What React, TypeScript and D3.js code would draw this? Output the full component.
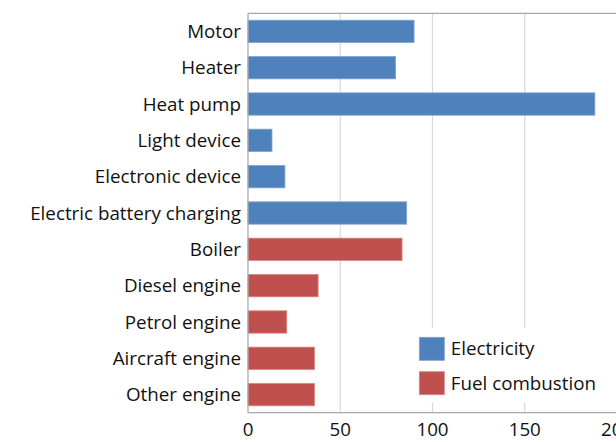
import React from "react";
import * as d3 from "d3";

const categories = [
  "Motor",
  "Heater",
  "Heat pump",
  "Light device",
  "Electronic device",
  "Electric battery charging",
  "Boiler",
  "Diesel engine",
  "Petrol engine",
  "Aircraft engine",
  "Other engine",
];
const values = [90, 80, 188, 13, 20, 86, 83.5, 38, 21, 36, 36];
const groups = [
  "Electricity",
  "Electricity",
  "Electricity",
  "Electricity",
  "Electricity",
  "Electricity",
  "Fuel combustion",
  "Fuel combustion",
  "Fuel combustion",
  "Fuel combustion",
  "Fuel combustion",
];
const legendItems = ["Electricity", "Fuel combustion"];
const xTicks = [0, 50, 100, 150, 200];

const W = 616;
const H = 442;
const FONT = "'Open Sans', Lato, sans-serif";
const FS = 18.8;

export default function App() {
  const left = 248;
  const right = 617;
  const top = 13.3;
  const bottom = 412.7;
  const x = d3.scaleLinear().domain([0, 200]).range([left, right]);
  const y = d3
    .scaleBand<string>()
    .domain(categories)
    .range([top, bottom])
    .paddingInner(0.385)
    .paddingOuter(0.19);
  const color = d3
    .scaleOrdinal<string, string>()
    .domain(legendItems)
    .range(["#4F81BD", "#C0504D"]);
  const stroke = d3
    .scaleOrdinal<string, string>()
    .domain(legendItems)
    .range(["#7FA3D3", "#D98583"]);

  return (
    <svg
      width={W}
      height={H}
      style={{ position: "fixed", left: 0, top: 0, background: "#fff" }}
      fontFamily={FONT}
    >
      <rect x={0} y={0} width={W} height={H} fill="#fff" />
      {xTicks.slice(1).map((t) => (
        <line
          key={t}
          x1={x(t)}
          x2={x(t)}
          y1={top}
          y2={bottom}
          stroke="#D9D9D9"
          strokeWidth={1.2}
        />
      ))}
      <line x1={left} x2={right} y1={top} y2={top} stroke="#A6A6A6" strokeWidth={1.2} />
      {categories.map((c, i) => (
        <rect
          key={c}
          x={x(0)}
          y={y(c)}
          width={x(values[i]) - x(0)}
          height={y.bandwidth()}
          fill={color(groups[i])}
          stroke={stroke(groups[i])}
          strokeWidth={0.8}
        />
      ))}
      <line x1={left} x2={left} y1={top} y2={bottom} stroke="#A6A6A6" strokeWidth={1.2} />
      <line x1={left} x2={right} y1={bottom} y2={bottom} stroke="#A6A6A6" strokeWidth={1.2} />
      {categories.map((c) => (
        <text
          key={c}
          x={left - 7}
          y={(y(c) ?? 0) + y.bandwidth() / 2}
          dy="0.35em"
          textAnchor="end"
          fontSize={FS}
          fill="#111"
        >
          {c}
        </text>
      ))}
      {xTicks.map((t) => (
        <text
          key={t}
          x={x(t)}
          y={436}
          textAnchor="middle"
          fontSize={FS}
          fill="#111"
        >
          {t}
        </text>
      ))}
      <rect x={411} y={328} width={195} height={75} fill="#fff" />
      {legendItems.map((g, i) => (
        <g key={g} transform={`translate(419.3, ${337.3 + i * 34.4})`}>
          <rect
            width={25}
            height={23}
            fill={color(g)}
            stroke={stroke(g)}
            strokeWidth={0.8}
          />
          <text x={31.5} y={11.5} dy="0.35em" fontSize={FS} fill="#111">
            {g}
          </text>
        </g>
      ))}
    </svg>
  );
}
